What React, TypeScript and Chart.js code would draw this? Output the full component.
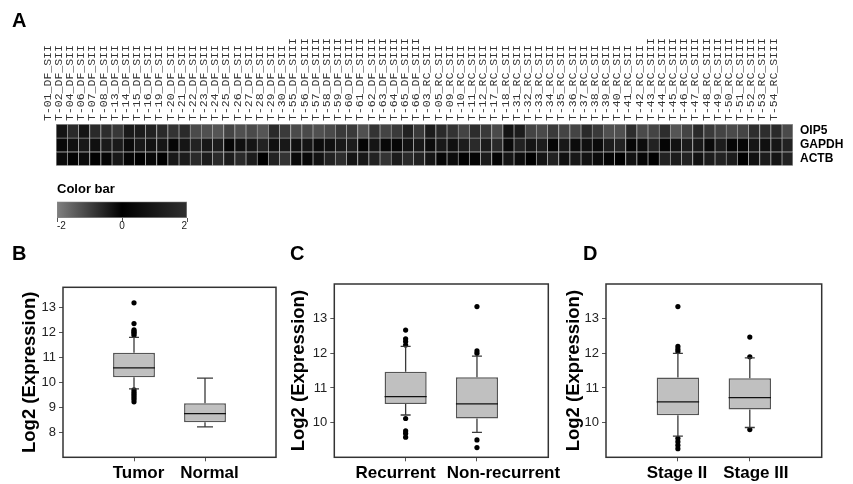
import React, { useEffect, useRef } from 'react';
import { Chart, registerables } from 'chart.js';

Chart.register(...registerables);

const FONT = '"Liberation Sans", Arial, Helvetica, sans-serif';
const MONO = '"Liberation Mono", "DejaVu Sans Mono", monospace';

// ---------- Panel A: heatmap ----------
const sampleLabels = [
  'T-01_DF_SII', 'T-02_DF_SII', 'T-04_DF_SII', 'T-06_DF_SII', 'T-07_DF_SII', 'T-08_DF_SII',
  'T-13_DF_SII', 'T-14_DF_SII', 'T-15_DF_SII', 'T-16_DF_SII', 'T-19_DF_SII', 'T-20_DF_SII',
  'T-21_DF_SII', 'T-22_DF_SII', 'T-23_DF_SII', 'T-24_DF_SII', 'T-25_DF_SII', 'T-26_DF_SII',
  'T-27_DF_SII', 'T-28_DF_SII', 'T-29_DF_SII', 'T-30_DF_SII',
  'T-55_DF_SIII', 'T-56_DF_SIII', 'T-57_DF_SIII', 'T-58_DF_SIII', 'T-59_DF_SIII', 'T-60_DF_SIII',
  'T-61_DF_SIII', 'T-62_DF_SIII', 'T-63_DF_SIII', 'T-64_DF_SIII', 'T-65_DF_SIII', 'T-66_DF_SIII',
  'T-03_RC_SII', 'T-05_RC_SII', 'T-09_RC_SII', 'T-10_RC_SII', 'T-11_RC_SII', 'T-12_RC_SII',
  'T-17_RC_SII', 'T-18_RC_SII', 'T-31_RC_SII', 'T-32_RC_SII', 'T-33_RC_SII', 'T-34_RC_SII',
  'T-35_RC_SII', 'T-36_RC_SII', 'T-37_RC_SII', 'T-38_RC_SII', 'T-39_RC_SII', 'T-40_RC_SII',
  'T-41_RC_SII', 'T-42_RC_SII',
  'T-43_RC_SIII', 'T-44_RC_SIII', 'T-45_RC_SIII', 'T-46_RC_SIII', 'T-47_RC_SIII', 'T-48_RC_SIII',
  'T-49_RC_SIII', 'T-50_RC_SIII', 'T-51_RC_SIII', 'T-52_RC_SIII', 'T-53_RC_SIII', 'T-54_RC_SIII',
];

const geneNames = ['OIP5', 'GAPDH', 'ACTB'];

const oip5Values = [
  -0.31, -0.66, -0.31, -0.66, -0.70, -0.88, -0.41, -0.44, -0.53, -0.66, -0.80, -0.66, -1.16, -1.25, -1.33, -1.06, -1.25, -1.16, -1.33, -0.66, -0.91, -1.16,
  -1.16, -1.25, -1.16, -0.91, -0.91, -1.25, -0.80, -1.06, -0.91, -0.53, -0.91, -0.44, -0.66, -0.80, -1.06, -0.70, -0.91, -1.16, -0.31, -0.44, -1.06, -1.16,
  -0.91, -1.06, -1.06, -0.66, -0.91, -1.25, -1.25, -0.70, -1.16, -1.06, -0.70, -1.33, -1.06, -0.66, -0.91, -1.06, -1.16, -1.06, -0.70, -0.70, -0.66, -1.16,
];
const gapdhValues = [
  -0.13, -0.25, -0.38, -0.25, -0.41, -0.41, -0.16, -0.38, -0.28, -0.33, -0.09, -0.33, -0.53, -0.38, -0.44, -0.09, -0.25, -0.33, -0.53, -0.25, -0.38, -0.25,
  -0.33, -0.19, -0.25, -0.38, -0.44, -0.08, -0.33, -0.13, -0.09, -0.28, -0.38, -0.19, -0.38, -0.25, -0.44, -0.66, -0.44, -0.66, -0.16, -0.53, -0.33, -0.44,
  -0.08, -0.38, -0.19, -0.25, -0.16, -0.44, -0.53, -0.09, -0.19, -0.53, -0.08, -0.28, -0.44, -0.38, -0.16, -0.44, -0.08, -0.09, -0.33, -0.25, -0.33, -0.53,
];
const actbValues = [
  -0.16, -0.05, -0.19, -0.03, -0.08, -0.38, -0.08, 0, -0.13, 0, -0.38, -0.44, -0.66, -0.44, -0.66, -0.44, -0.66, -0.44, 0, -0.53, -0.80, -0.16,
  -0.13, -0.28, -0.53, -0.70, -0.33, -0.38, -0.53, -0.80, -0.44, -0.66, -0.53, -0.33, -0.09, -0.19, -0.03, -0.08, -0.44, -0.08, -0.33, -0.19, 0, -0.33,
  -0.53, -0.25, -0.38, -0.28, -0.19, -0.08, 0, -0.28, -0.09, 0, -0.53, -0.44, -0.53, -0.28, -0.44, -0.53, -0.44, 0, -0.28, -0.44, -0.33, -0.53,
];

const colorBarTicks = [-2, 0, 2];

// ---------- Panel B ----------
const tumorNormalGroups = ['Tumor', 'Normal'];
const tumorNormalQ1 = [10.2, 8.4];
const tumorNormalMedian = [10.58, 8.75];
const tumorNormalQ3 = [11.18, 9.16];
const tumorNormalLow = [9.74, 8.22];
const tumorNormalHigh = [11.8, 10.17];
const tumorOutliers = [13.18, 12.35, 12.1, 12.05, 12.0, 11.95, 11.88, 9.7, 9.62, 9.55, 9.48, 9.4, 9.32, 9.22];
const normalOutliers: number[] = [];
const tumorNormalTicks = [8, 9, 10, 11, 12, 13];

// ---------- Panel C ----------
const recurrenceGroups = ['Recurrent', 'Non-recurrent'];
const recurrenceQ1 = [10.54, 10.12];
const recurrenceMedian = [10.75, 10.54];
const recurrenceQ3 = [11.47, 11.31];
const recurrenceLow = [10.22, 9.72];
const recurrenceHigh = [12.2, 11.92];
const recurrentOutliers = [12.67, 12.42, 12.34, 12.24, 10.12, 9.76, 9.69, 9.58];
const nonRecurrentOutliers = [13.35, 12.07, 12.0, 9.5, 9.28];
const recurrenceTicks = [10, 11, 12, 13];

// ---------- Panel D ----------
const stageGroups = ['Stage II', 'Stage III'];
const stageQ1 = [10.21, 10.38];
const stageMedian = [10.6, 10.72];
const stageQ3 = [11.3, 11.28];
const stageLow = [9.61, 9.86];
const stageHigh = [12.0, 11.87];
const stage2Outliers = [13.35, 12.2, 12.12, 12.05, 9.55, 9.45, 9.35, 9.25];
const stage3Outliers = [12.47, 11.9, 9.8];
const stageTicks = [10, 11, 12, 13];

function zGray(v: number): number {
  return v < 0 ? Math.min(255, Math.round(-v * 64)) : Math.min(255, Math.round(v * 24));
}
function zColor(v: number): string {
  const g = zGray(v);
  return `rgb(${g},${g},${g})`;
}

function heatmapConfig(): any {
  const rows = [
    { name: geneNames[2], values: actbValues },
    { name: geneNames[1], values: gapdhValues },
    { name: geneNames[0], values: oip5Values },
  ];
  const n = sampleLabels.length;
  return {
    type: 'bar',
    data: {
      labels: sampleLabels,
      datasets: rows.map((r, ri) => ({
        label: r.name,
        data: r.values.map(() => 1),
        backgroundColor: r.values.map(zColor),
        borderColor: '#9a9a9a',
        borderWidth: (c: any) => ({
          left: 1,
          top: 1,
          right: c.dataIndex === n - 1 ? 1 : 0,
          bottom: ri === 0 ? 1 : 0,
        }),
        borderSkipped: false,
        barPercentage: 1,
        categoryPercentage: 1,
      })),
    },
    options: {
      responsive: false,
      animation: false,
      events: [],
      layout: { padding: { left: 56, right: 0, top: 0, bottom: 9 } },
      plugins: { legend: { display: false }, tooltip: { enabled: false } },
      scales: {
        x: {
          type: 'category',
          position: 'top',
          stacked: true,
          offset: true,
          grid: { display: false, drawTicks: false },
          border: { display: false },
          ticks: {
            autoSkip: false,
            minRotation: 90,
            maxRotation: 90,
            padding: 3,
            color: '#333',
            font: { family: MONO, size: 11.5 },
          },
          afterFit: (s: any) => { s.height = 124; },
        },
        y: {
          type: 'linear',
          position: 'right',
          stacked: true,
          min: 0,
          max: 3,
          grid: { display: false, drawTicks: false },
          border: { display: false },
          afterBuildTicks: (s: any) => { s.ticks = [0.5, 1.5, 2.5].map((v) => ({ value: v })); },
          ticks: {
            padding: 7,
            color: '#000',
            font: { family: FONT, size: 12, weight: 'bold' },
            callback: (v: any) => geneNames[2 - Math.floor(Number(v))],
          },
          afterFit: (s: any) => { s.width = 60; },
        },
      },
    },
  };
}

function colorBarConfig(): any {
  return {
    type: 'bar',
    data: {
      labels: [''],
      datasets: [
        {
          data: [[colorBarTicks[0], colorBarTicks[colorBarTicks.length - 1]]],
          backgroundColor: (c: any) => {
            const area = c.chart.chartArea;
            if (!area) return '#444';
            const g = c.chart.ctx.createLinearGradient(area.left, 0, area.right, 0);
            g.addColorStop(0, zColor(colorBarTicks[0]));
            g.addColorStop(0.5, zColor(colorBarTicks[1]));
            g.addColorStop(1, zColor(colorBarTicks[2]));
            return g;
          },
          borderColor: '#888',
          borderWidth: 1,
          borderSkipped: false,
          barPercentage: 1,
          categoryPercentage: 1,
        },
      ],
    },
    options: {
      indexAxis: 'y',
      responsive: false,
      animation: false,
      events: [],
      layout: { padding: { left: 17, right: 13, top: 0, bottom: 0 } },
      plugins: {
        legend: { display: false },
        tooltip: { enabled: false },
        title: {
          display: true,
          text: 'Color bar',
          align: 'start',
          color: '#000',
          font: { family: FONT, size: 13, weight: 'bold' },
          padding: { top: 2, bottom: 4 },
        },
      },
      scales: {
        y: { display: false },
        x: {
          type: 'linear',
          min: colorBarTicks[0],
          max: colorBarTicks[colorBarTicks.length - 1],
          afterBuildTicks: (s: any) => { s.ticks = colorBarTicks.map((v) => ({ value: v })); },
          grid: { drawOnChartArea: false, tickLength: 4, tickColor: '#555' },
          border: { display: false },
          ticks: { align: 'inner', padding: -2, color: '#222', font: { family: FONT, size: 10 } },
          afterFit: (s: any) => { s.height = 18; },
        },
      },
    },
  };
}

type BoxSpec = {
  groups: string[];
  q1: number[];
  median: number[];
  q3: number[];
  low: number[];
  high: number[];
  outliers: number[][];
  ticks: number[];
  min: number;
  max: number;
  padTop: number;
  padRight: number;
  yAxisWidth: number;
  titlePad: number;
  caps: number[];
  labelShift: number[];
};

function boxConfig(p: BoxSpec): any {
  const points = p.outliers.flatMap((arr, gi) => arr.map((v) => ({ x: gi + 1, y: v })));
  const decor = {
    id: 'boxDecor',
    afterDatasetsDraw(chart: any) {
      const { ctx } = chart;
      const y = chart.scales.y;
      const meta = chart.getDatasetMeta(0);
      meta.data.forEach((bar: any, i: number) => {
        const cx = bar.x;
        const half = bar.width / 2;
        const yq1 = y.getPixelForValue(p.q1[i]);
        const yq3 = y.getPixelForValue(p.q3[i]);
        const ylo = y.getPixelForValue(p.low[i]);
        const yhi = y.getPixelForValue(p.high[i]);
        const ymed = y.getPixelForValue(p.median[i]);
        const cap = p.caps[i] / 2;
        ctx.save();
        ctx.strokeStyle = '#3a3a3a';
        ctx.lineWidth = 1.3;
        ctx.beginPath();
        ctx.moveTo(cx, yq3); ctx.lineTo(cx, yhi);
        ctx.moveTo(cx, yq1); ctx.lineTo(cx, ylo);
        ctx.moveTo(cx - cap, yhi); ctx.lineTo(cx + cap, yhi);
        ctx.moveTo(cx - cap, ylo); ctx.lineTo(cx + cap, ylo);
        ctx.stroke();
        ctx.strokeStyle = '#111';
        ctx.lineWidth = 1.2;
        ctx.beginPath();
        ctx.moveTo(cx - half, ymed); ctx.lineTo(cx + half, ymed);
        ctx.stroke();
        ctx.restore();
      });
    },
    afterDraw(chart: any) {
      const { ctx, chartArea: a } = chart;
      const xs = chart.scales.x;
      ctx.save();
      ctx.strokeStyle = '#333';
      ctx.lineWidth = 1.5;
      ctx.strokeRect(a.left, a.top, a.right - a.left, a.bottom - a.top);
      ctx.fillStyle = '#000';
      ctx.font = `bold 17px ${FONT}`;
      ctx.textAlign = 'center';
      ctx.textBaseline = 'alphabetic';
      p.groups.forEach((g, i) => {
        ctx.fillText(g, xs.getPixelForValue(i + 1) + p.labelShift[i], a.bottom + 21);
      });
      ctx.restore();
    },
  };
  return {
    type: 'bar',
    data: {
      datasets: [
        {
          type: 'bar',
          data: p.groups.map((_, i) => ({ x: i + 1, y: [p.q1[i], p.q3[i]] })),
          backgroundColor: '#c0c0c0',
          borderColor: '#555',
          borderWidth: 1.5,
          borderSkipped: false,
          barPercentage: 0.59,
          categoryPercentage: 1,
          order: 2,
        },
        {
          type: 'scatter',
          data: points,
          pointRadius: 2.6,
          pointBackgroundColor: '#000',
          pointBorderWidth: 0,
          showLine: false,
          order: 1,
        },
      ],
    },
    options: {
      responsive: false,
      animation: false,
      events: [],
      layout: { padding: { left: 0, right: p.padRight, top: p.padTop, bottom: 0 } },
      plugins: { legend: { display: false }, tooltip: { enabled: false } },
      scales: {
        x: {
          type: 'linear',
          min: 0,
          max: 3,
          offset: false,
          afterBuildTicks: (s: any) => { s.ticks = p.groups.map((_, i) => ({ value: i + 1 })); },
          grid: { drawOnChartArea: false, tickLength: 4, tickColor: '#555', offset: false },
          border: { display: false },
          ticks: { display: false },
          afterFit: (s: any) => { s.height = 26.7; },
        },
        y: {
          type: 'linear',
          min: p.min,
          max: p.max,
          afterBuildTicks: (s: any) => { s.ticks = p.ticks.map((v) => ({ value: v })); },
          grid: { drawOnChartArea: false, tickLength: 4, tickColor: '#555' },
          border: { display: false },
          ticks: { padding: 3, color: '#222', font: { family: FONT, size: 13 } },
          title: {
            display: true,
            text: 'Log2 (Expression)',
            color: '#000',
            font: { family: FONT, size: 18.5, weight: 'bold' },
            padding: { top: p.titlePad, bottom: 0 },
          },
          afterFit: (s: any) => { s.width = p.yAxisWidth; },
        },
      },
    },
    plugins: [decor],
  };
}

const letterStyle = (left: number, top: number): React.CSSProperties => ({
  position: 'absolute',
  left,
  top,
  fontFamily: FONT,
  fontWeight: 'bold',
  fontSize: 20,
  lineHeight: '20px',
  color: '#000',
});

export default function App() {
  const heatRef = useRef<HTMLCanvasElement>(null);
  const barRef = useRef<HTMLCanvasElement>(null);
  const bRef = useRef<HTMLCanvasElement>(null);
  const cRef = useRef<HTMLCanvasElement>(null);
  const dRef = useRef<HTMLCanvasElement>(null);

  useEffect(() => {
    Chart.defaults.font.family = FONT;
    const charts: Chart[] = [];
    charts.push(new Chart(heatRef.current as HTMLCanvasElement, heatmapConfig()));
    charts.push(new Chart(barRef.current as HTMLCanvasElement, colorBarConfig()));
    charts.push(
      new Chart(
        bRef.current as HTMLCanvasElement,
        boxConfig({
          groups: tumorNormalGroups,
          q1: tumorNormalQ1,
          median: tumorNormalMedian,
          q3: tumorNormalQ3,
          low: tumorNormalLow,
          high: tumorNormalHigh,
          outliers: [tumorOutliers, normalOutliers],
          ticks: tumorNormalTicks,
          min: 7,
          max: 13.8,
          padTop: 47.3,
          padRight: 9,
          yAxisWidth: 63,
          titlePad: 18.9,
          caps: [10, 16],
          labelShift: [4.5, 4.5],
        })
      )
    );
    charts.push(
      new Chart(
        cRef.current as HTMLCanvasElement,
        boxConfig({
          groups: recurrenceGroups,
          q1: recurrenceQ1,
          median: recurrenceMedian,
          q3: recurrenceQ3,
          low: recurrenceLow,
          high: recurrenceHigh,
          outliers: [recurrentOutliers, nonRecurrentOutliers],
          ticks: recurrenceTicks,
          min: 9,
          max: 14,
          padTop: 44,
          padRight: 13.7,
          yAxisWidth: 49.3,
          titlePad: 2.4,
          caps: [10, 10],
          labelShift: [-10, 26.5],
        })
      )
    );
    charts.push(
      new Chart(
        dRef.current as HTMLCanvasElement,
        boxConfig({
          groups: stageGroups,
          q1: stageQ1,
          median: stageMedian,
          q3: stageQ3,
          low: stageLow,
          high: stageHigh,
          outliers: [stage2Outliers, stage3Outliers],
          ticks: stageTicks,
          min: 9,
          max: 14,
          padTop: 44,
          padRight: 31.3,
          yAxisWidth: 44,
          titlePad: 0.9,
          caps: [10, 10],
          labelShift: [-1, 6],
        })
      )
    );
    return () => charts.forEach((c) => c.destroy());
  }, []);

  return (
    <div
      style={{
        position: 'fixed',
        left: 0,
        top: 0,
        width: 853,
        height: 484,
        background: '#fff',
        overflow: 'hidden',
      }}
    >
      <canvas ref={heatRef} width={853} height={180} style={{ position: 'absolute', left: 0, top: 0 }} />
      <canvas ref={barRef} width={160} height={56} style={{ position: 'absolute', left: 40, top: 180 }} />
      <canvas ref={bRef} width={285} height={244} style={{ position: 'absolute', left: 0, top: 240 }} />
      <canvas ref={cRef} width={277} height={244} style={{ position: 'absolute', left: 285, top: 240 }} />
      <canvas ref={dRef} width={291} height={244} style={{ position: 'absolute', left: 562, top: 240 }} />
      <div style={letterStyle(12, 10)}>A</div>
      <div style={letterStyle(12, 243)}>B</div>
      <div style={letterStyle(290, 243)}>C</div>
      <div style={letterStyle(583, 243)}>D</div>
    </div>
  );
}
